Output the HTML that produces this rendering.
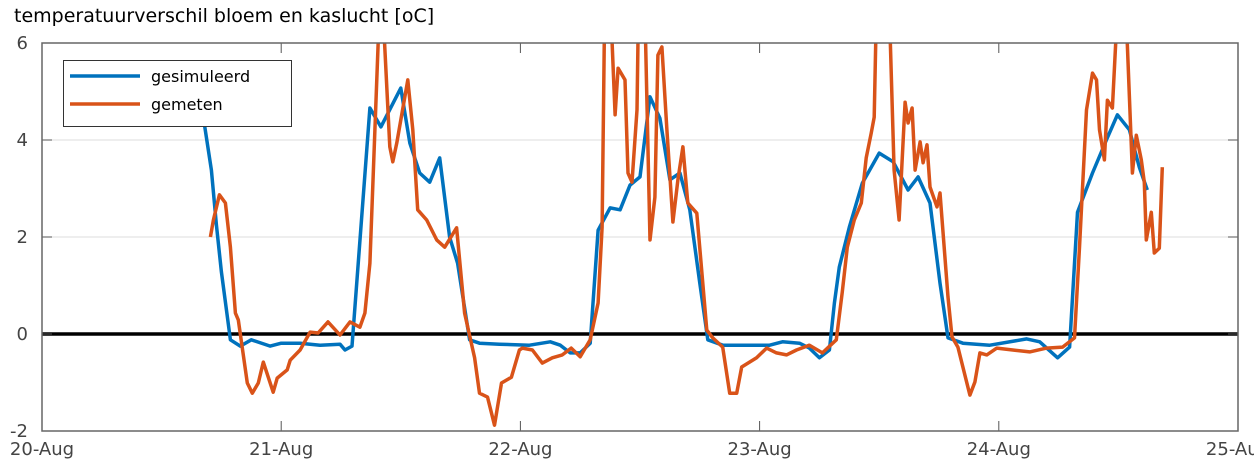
<!DOCTYPE html>
<html><head><meta charset="utf-8"><style>
html,body{margin:0;padding:0;background:#fff;}
svg{display:block;font-family:"DejaVu Sans","Liberation Sans",sans-serif;}
</style></head><body>
<svg id="chart" width="1254" height="459" viewBox="0 0 1254 459" xmlns="http://www.w3.org/2000/svg">
<defs><clipPath id="plotclip"><rect x="42" y="43" width="1196" height="388"/></clipPath></defs>
<text x="14" y="22" font-size="19" fill="#000">temperatuurverschil bloem en kaslucht [oC]</text>
<g id="grid"></g>
<g id="series" clip-path="url(#plotclip)"></g>
<g id="axes"></g>
<g>
<rect x="63.5" y="60.5" width="228" height="66" fill="#fff" stroke="#333" stroke-width="1"/>
<line x1="70" y1="76" x2="140" y2="76" stroke="#0072BD" stroke-width="3.5"/>
<text x="151" y="82" font-size="16" fill="#000">gesimuleerd</text>
<line x1="70" y1="104" x2="140" y2="104" stroke="#D95319" stroke-width="3.5"/>
<text x="151" y="110" font-size="16" fill="#000">gemeten</text>
</g>
</svg>
<script>
// hours since 20-Aug 00:00
const simHours = [16.0,16.3,17.0,17.5,18.0,18.9,19.9,21.0,22.9,24.0,25.9,27.9,29.9,30.4,31.1,32.9,34.0,36.0,36.9,37.9,38.9,39.9,40.9,41.7,42.9,43.9,45.9,48.9,51.0,52.0,53.0,54.0,55.0,55.8,57.0,58.0,59.0,60.0,61.0,62.0,63.0,64.0,65.0,66.0,66.8,68.3,73.0,74.3,76.0,77.0,78.0,79.0,79.5,80.0,81.0,82.3,84.0,85.4,86.9,87.9,89.1,90.1,90.9,92.4,95.1,98.8,100.1,101.9,103.1,103.9,105.4,106.8,107.9,109.1,110.1,110.9];
const simValues = [4.82,4.31,3.38,2.25,1.28,-0.12,-0.25,-0.12,-0.25,-0.19,-0.19,-0.23,-0.21,-0.33,-0.25,4.66,4.27,5.07,3.94,3.32,3.13,3.63,2.0,1.46,-0.12,-0.19,-0.21,-0.23,-0.16,-0.23,-0.39,-0.39,-0.19,2.14,2.6,2.56,3.07,3.24,4.89,4.45,3.18,3.32,2.56,1.05,-0.12,-0.23,-0.23,-0.16,-0.19,-0.29,-0.49,-0.33,0.64,1.38,2.2,3.11,3.73,3.55,2.97,3.24,2.7,1.05,-0.08,-0.19,-0.23,-0.10,-0.16,-0.49,-0.27,2.51,3.32,4.0,4.52,4.21,3.44,2.97];
const measHours = [16.9,17.2,17.8,18.4,18.9,19.4,19.7,20.6,21.1,21.7,22.2,23.2,23.6,24.6,24.9,25.9,26.9,27.7,28.7,29.9,30.9,31.9,32.4,32.9,33.4,34.0,34.9,35.2,35.6,36.7,37.2,37.7,38.6,39.6,40.4,41.6,42.4,43.4,43.9,44.7,45.4,46.1,47.1,47.9,48.2,49.2,50.2,51.2,52.2,53.1,54.0,55.0,55.8,56.2,56.5,56.9,57.5,57.8,58.5,58.8,59.2,59.7,59.9,60.4,61.0,61.5,61.8,62.2,62.7,63.3,63.8,64.3,64.8,65.7,66.7,67.3,68.3,69.0,69.7,70.2,71.7,72.7,73.7,74.7,75.7,77.0,78.3,79.7,80.3,80.8,81.5,82.2,82.7,83.2,83.5,83.8,84.9,85.5,86.0,86.6,86.9,87.3,87.6,88.1,88.4,88.8,89.1,89.8,90.1,90.9,91.3,91.9,93.1,93.6,94.1,94.8,95.8,97.4,99.1,100.8,102.4,103.6,104.1,104.8,105.4,105.8,106.1,106.6,106.9,107.4,108.1,108.6,109.4,109.8,110.3,110.6,110.8,111.3,111.6,112.1,112.4];
const measValues = [2.0,2.35,2.87,2.7,1.79,0.43,0.29,-1.01,-1.22,-1.01,-0.58,-1.2,-0.91,-0.74,-0.54,-0.33,0.04,0.02,0.25,-0.02,0.25,0.14,0.43,1.46,4.21,7.5,3.86,3.55,3.94,5.24,4.21,2.56,2.35,1.94,1.79,2.19,0.43,-0.49,-1.22,-1.3,-1.88,-1.01,-0.89,-0.33,-0.29,-0.33,-0.6,-0.49,-0.43,-0.29,-0.47,-0.12,0.64,2.2,7.5,7.5,4.52,5.48,5.24,3.32,3.13,4.62,7.5,7.5,1.94,2.82,5.75,5.92,4.21,2.31,3.18,3.86,2.7,2.49,0.08,-0.08,-0.27,-1.22,-1.22,-0.68,-0.49,-0.29,-0.39,-0.43,-0.33,-0.23,-0.39,-0.12,0.87,1.79,2.35,2.7,3.63,4.14,4.47,7.5,7.5,3.38,2.35,4.78,4.35,4.66,3.38,3.96,3.53,3.9,3.03,2.62,2.91,0.76,-0.06,-0.27,-1.26,-0.99,-0.39,-0.43,-0.29,-0.33,-0.37,-0.29,-0.27,-0.08,1.79,4.62,5.38,5.24,4.21,3.59,4.82,4.66,7.5,7.5,3.32,4.1,3.59,3.13,1.94,2.51,1.67,1.77,3.44];
const yTicks = [-2,0,2,4,6];
const yTickLabels = ["-2","0","2","4","6"];
const xTicks = [0,24,48,72,96,120];
const xTickLabels = ["20-Aug","21-Aug","22-Aug","23-Aug","24-Aug","25-Aug"];

const X0=42,X1=1238,Y0=431,Y1=43;
const xScale = h => X0 + (h-0)/(120-0)*(X1-X0);
const yScale = v => Y0 - (v-(-2))/(6-(-2))*(Y0-Y1);
const NS="http://www.w3.org/2000/svg";
const mk=(tag,attrs,parent)=>{const e=document.createElementNS(NS,tag);for(const k in attrs)e.setAttribute(k,attrs[k]);parent.appendChild(e);return e;};
const grid=document.getElementById('grid'),series=document.getElementById('series'),axes=document.getElementById('axes');

yTicks.forEach((t,i)=>{
  const y=yScale(t);
  if(t>-2&&t<6){const g=mk('line',{x1:X0,x2:X1,y1:y,y2:y,stroke:'#dcdcdc','stroke-width':1},grid);
  
  }
  const tk=mk('line',{x1:X0,x2:X0+10,y1:y,y2:y,stroke:'#555','stroke-width':1},axes);
  
  
  const tk2=mk('line',{x1:X1-10,x2:X1,y1:y,y2:y,stroke:'#555','stroke-width':1},axes);
  
  
  const lb=mk('text',{x:28,y:y+6,'text-anchor':'end','font-size':18,fill:'#444'},axes);
  lb.textContent=yTickLabels[i];
  
  
});
xTicks.forEach((t,i)=>{
  const x=xScale(t);
  const tk=mk('line',{x1:x,x2:x,y1:Y0,y2:Y0-10,stroke:'#555','stroke-width':1},axes);
  
  
  const tk2=mk('line',{x1:x,x2:x,y1:Y1,y2:Y1+10,stroke:'#555','stroke-width':1},axes);
  
  
  const lb=mk('text',{x:x,y:455,'text-anchor':'middle','font-size':18,fill:'#444'},axes);
  lb.textContent=xTickLabels[i];
  
  
});
const frame=mk('rect',{x:X0,y:Y1,width:X1-X0,height:Y0-Y1,fill:'none',stroke:'#666','stroke-width':1.5},axes);



const zero=mk('line',{x1:X0,x2:X1,y1:yScale(0),y2:yScale(0),stroke:'#000','stroke-width':3.5},series);



const pts=(hs,vs)=>hs.map((h,i)=>xScale(h).toFixed(1)+','+yScale(vs[i]).toFixed(1)).join(' ');
const sim=mk('polyline',{points:pts(simHours,simValues),fill:'none',stroke:'#0072BD','stroke-width':3.5,'stroke-linejoin':'round'},series);


const meas=mk('polyline',{points:pts(measHours,measValues),fill:'none',stroke:'#D95319','stroke-width':3.5,'stroke-linejoin':'round'},series);


</script>
</body></html>
